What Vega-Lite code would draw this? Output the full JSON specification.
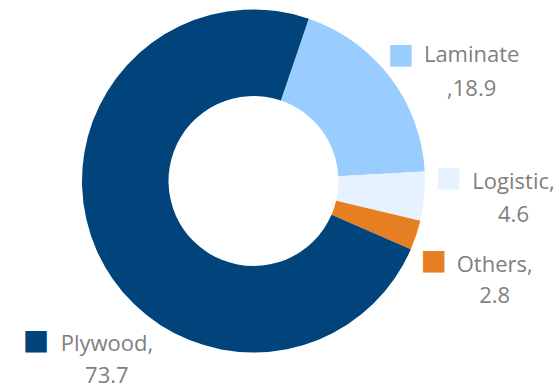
{
  "$schema": "https://vega.github.io/schema/vega-lite/v6.json",
  "width": 507,
  "height": 362,
  "autosize": {"type": "none"},
  "padding": {"left": 0, "top": 0, "right": 52, "bottom": 23},
  "background": "white",
  "config": {"view": {"stroke": null}},
  "data": {
    "values": [
      {"cat": "Laminate", "value": 18.9, "label": "Laminate\n,18.9"},
      {"cat": "Logistic", "value": 4.6, "label": "Logistic,\n4.6"},
      {"cat": "Others", "value": 2.8, "label": "Others,\n2.8"},
      {"cat": "Plywood", "value": 73.7, "label": "Plywood,\n73.7"}
    ]
  },
  "encoding": {
    "theta": {"field": "value", "type": "quantitative", "stack": true, "scale": {"range": [0.328, 6.6112]}},
    "order": {"field": "cat", "type": "ordinal", "sort": "ascending"}
  },
  "layer": [
    {
      "mark": {"type": "arc", "innerRadius": 85, "outerRadius": 171.5, "strokeWidth": 0},
      "encoding": {
        "color": {"field": "cat", "type": "nominal", "legend": null,
          "scale": {"domain": ["Laminate", "Logistic", "Others", "Plywood"], "range": ["#99CCFF", "#E6F2FF", "#E67E22", "#00447B"]}}
      }
    },
    {
      "mark": {"type": "text", "radius": 250, "dx": -52, "dy": 25, "font": "DejaVu Sans", "fontSize": 28, "align": "center", "baseline": "middle"},
      "encoding": {
        "color": {"field": "cat", "type": "nominal", "legend": null},
        "text": {"condition": {"test": "datum.cat === 'Laminate'", "value": "■"}, "value": ""}
      }
    },
    {
      "mark": {"type": "text", "radius": 250, "dx": -54, "dy": -25, "font": "DejaVu Sans", "fontSize": 28, "align": "center", "baseline": "middle"},
      "encoding": {
        "color": {"field": "cat", "type": "nominal", "legend": null},
        "text": {"condition": {"test": "datum.cat === 'Logistic'", "value": "■"}, "value": ""}
      }
    },
    {
      "mark": {"type": "text", "radius": 250, "dx": -57, "dy": 0.6, "font": "DejaVu Sans", "fontSize": 28, "align": "center", "baseline": "middle"},
      "encoding": {
        "color": {"field": "cat", "type": "nominal", "legend": null},
        "text": {"condition": {"test": "datum.cat === 'Others'", "value": "■"}, "value": ""}
      }
    },
    {
      "mark": {"type": "text", "radius": 250, "dx": 11, "dy": 59, "font": "DejaVu Sans", "fontSize": 28, "align": "center", "baseline": "middle"},
      "encoding": {
        "color": {"field": "cat", "type": "nominal", "legend": null},
        "text": {"condition": {"test": "datum.cat === 'Plywood'", "value": "■"}, "value": ""}
      }
    },
    {
      "mark": {"type": "text", "radius": 250, "dx": 19, "dy": 32.5, "font": "Open Sans", "fontSize": 22, "letterSpacing": 0.4, "lineBreak": "\n", "lineHeight": 34, "align": "center", "baseline": "alphabetic", "fill": "#7F7F7F"},
      "encoding": {
        "detail": {"field": "cat", "type": "nominal"},
        "text": {"condition": {"test": "datum.cat === 'Laminate'", "field": "label", "type": "nominal"}, "value": ""}
      }
    },
    {
      "mark": {"type": "text", "radius": 250, "dx": 11, "dy": -14, "font": "Open Sans", "fontSize": 22, "letterSpacing": 0.4, "lineBreak": "\n", "lineHeight": 33, "align": "center", "baseline": "alphabetic", "fill": "#7F7F7F"},
      "encoding": {
        "detail": {"field": "cat", "type": "nominal"},
        "text": {"condition": {"test": "datum.cat === 'Logistic'", "field": "label", "type": "nominal"}, "value": ""}
      }
    },
    {
      "mark": {"type": "text", "radius": 250, "dx": 4, "dy": 12, "font": "Open Sans", "fontSize": 22, "letterSpacing": 0.4, "lineBreak": "\n", "lineHeight": 31, "align": "center", "baseline": "alphabetic", "fill": "#7F7F7F"},
      "encoding": {
        "detail": {"field": "cat", "type": "nominal"},
        "text": {"condition": {"test": "datum.cat === 'Others'", "field": "label", "type": "nominal"}, "value": ""}
      }
    },
    {
      "mark": {"type": "text", "radius": 250, "dx": 82, "dy": 69, "font": "Open Sans", "fontSize": 22, "letterSpacing": 0.4, "lineBreak": "\n", "lineHeight": 32, "align": "center", "baseline": "alphabetic", "fill": "#7F7F7F"},
      "encoding": {
        "detail": {"field": "cat", "type": "nominal"},
        "text": {"condition": {"test": "datum.cat === 'Plywood'", "field": "label", "type": "nominal"}, "value": ""}
      }
    }
  ]
}
